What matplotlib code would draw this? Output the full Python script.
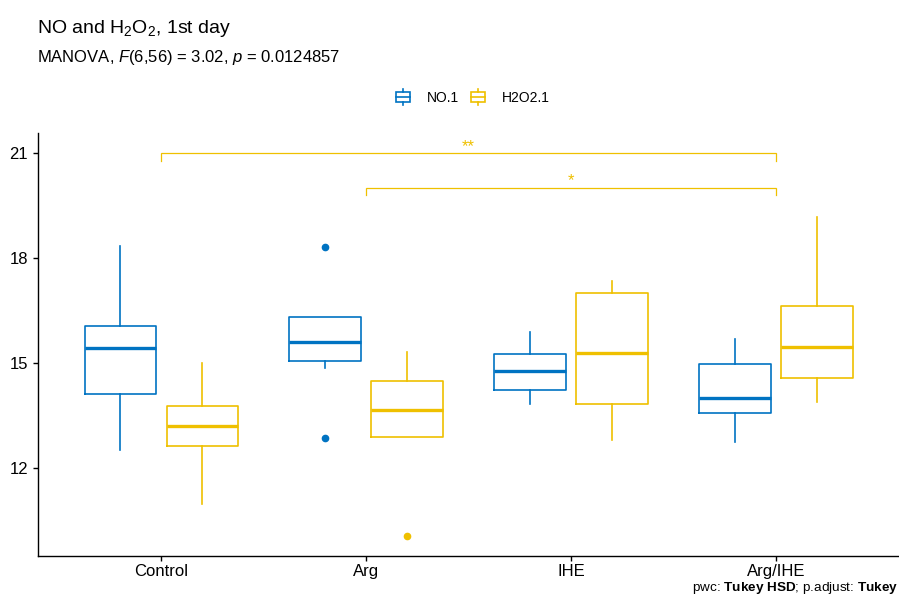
import matplotlib
matplotlib.use("Agg")
import matplotlib.pyplot as plt
from matplotlib.legend_handler import HandlerBase
from matplotlib.lines import Line2D
from matplotlib.patches import Rectangle

plt.rcParams["font.family"] = ["Liberation Sans", "DejaVu Sans"]
plt.rcParams["mathtext.fontset"] = "custom"
plt.rcParams["mathtext.rm"] = "Liberation Sans"
plt.rcParams["mathtext.it"] = "Liberation Sans:italic"
plt.rcParams["mathtext.bf"] = "Liberation Sans:bold"

# ── data ─────────────────────────────────────────────────────────────────────
groups = ["Control", "Arg", "IHE", "Arg/IHE"]

no_lo  = [12.52, 14.86, 13.84, 12.73]
no_q1  = [14.11, 15.06, 14.24, 13.57]
no_med = [15.43, 15.59, 14.78, 13.99]
no_q3  = [16.05, 16.33, 15.27, 14.97]
no_hi  = [18.35, 16.33, 15.89, 15.69]
no_out = [[], [18.31, 12.86], [], []]

h2_lo  = [10.98, 12.89, 12.79, 13.90]
h2_q1  = [12.62, 12.89, 13.83, 14.57]
h2_med = [13.19, 13.67, 15.30, 15.45]
h2_q3  = [13.78, 14.50, 16.99, 16.62]
h2_hi  = [15.00, 15.33, 17.36, 19.17]
h2_out = [[], [10.05], [], []]

# pairwise comparisons (group index pairs), bracket heights, labels
pairs = [(0, 3), (1, 3)]
pair_y = [21.0, 20.02]
pair_labels = ["**", "*"]

yticks = [12, 15, 18, 21]

NO_COLOR = "#0073C2"
H2_COLOR = "#EFC000"


def make_stats(lo, q1, med, q3, hi, out):
    return [dict(whislo=a, q1=b, med=c, q3=d, whishi=e, fliers=f)
            for a, b, c, d, e, f in zip(lo, q1, med, q3, hi, out)]


class BoxKey(HandlerBase):
    # ggplot-like boxplot key: box, median line, whisker stubs
    def create_artists(self, legend, orig_handle, xdescent, ydescent,
                       width, height, fontsize, trans):
        c = orig_handle.get_color()
        x0, y0 = -xdescent, -ydescent
        cx = x0 + width / 2
        box = Rectangle((x0, y0 + height * 0.18), width, height * 0.64,
                        fill=False, ec=c, lw=1.2, transform=trans)
        mid = Line2D([x0, x0 + width], [y0 + height / 2] * 2, color=c, lw=1.2, transform=trans)
        w1 = Line2D([cx, cx], [y0, y0 + height * 0.18], color=c, lw=1.2, transform=trans)
        w2 = Line2D([cx, cx], [y0 + height * 0.82, y0 + height], color=c, lw=1.2, transform=trans)
        return [box, mid, w1, w2]


fig = plt.figure(figsize=(8.99, 6.01), dpi=100)
ax = fig.add_axes([0.0428, 0.0754, 0.957, 0.7033])

xs = list(range(1, len(groups) + 1))
for stats, off, col in [(make_stats(no_lo, no_q1, no_med, no_q3, no_hi, no_out), -0.2, NO_COLOR),
                        (make_stats(h2_lo, h2_q1, h2_med, h2_q3, h2_hi, h2_out), 0.2, H2_COLOR)]:
    ax.bxp(stats, positions=[x + off for x in xs], widths=0.35, showcaps=False,
           boxprops=dict(color=col, lw=1.2),
           whiskerprops=dict(color=col, lw=1.2),
           medianprops=dict(color=col, lw=2.4, solid_capstyle="butt"),
           flierprops=dict(marker="o", markerfacecolor=col, markeredgecolor=col,
                           markersize=4.5, linestyle="none"),
           manage_ticks=False)

# significance brackets
tip = 0.21
for (a, b), yv, lab in zip(pairs, pair_y, pair_labels):
    ax.plot([xs[a], xs[a], xs[b], xs[b]], [yv - tip, yv, yv, yv - tip],
            color=H2_COLOR, lw=0.9, solid_joinstyle="miter")
    ax.text((xs[a] + xs[b]) / 2, yv + 0.2, lab, ha="center", va="center",
            fontsize=12, color=H2_COLOR)

ax.set_xlim(0.4, 4.6)
ax.set_ylim(9.49, 21.58)
ax.set_xticks(xs)
ax.set_xticklabels(groups)
ax.set_yticks(yticks)
ax.tick_params(labelsize=12, length=3.5, width=1.0, colors="black", pad=4)
ax.tick_params(axis="x", pad=2.6)
for s in ["top", "right"]:
    ax.spines[s].set_visible(False)
for s in ["left", "bottom"]:
    ax.spines[s].set_linewidth(1.0)

# titles
fig.text(0.0412, 1 - 33 / 601, r"NO and H$_2$O$_2$, 1st day", fontsize=14,
         ha="left", va="baseline")
fig.text(0.0412, 1 - 62 / 601, r"MANOVA, $\mathit{F}$(6,56) = 3.02, $\mathit{p}$ = 0.0124857",
         fontsize=12, ha="left", va="baseline")

handles = [Line2D([], [], color=NO_COLOR), Line2D([], [], color=H2_COLOR)]
fig.legend(handles, ["NO.1", "H2O2.1"], handler_map={Line2D: BoxKey()},
           loc="center", bbox_to_anchor=(0.526, 1 - 97 / 601), ncol=2, frameon=False,
           fontsize=10, handlelength=1.0, handleheight=1.45, handletextpad=1.2,
           columnspacing=0.9, borderpad=0.2)

fig.text(0.999, 1 - 591 / 601, r"pwc: $\mathbf{Tukey\ HSD}$; p.adjust: $\mathbf{Tukey}$",
         fontsize=9.7, ha="right", va="baseline")

fig.savefig("out.png", dpi=100, facecolor="white")
